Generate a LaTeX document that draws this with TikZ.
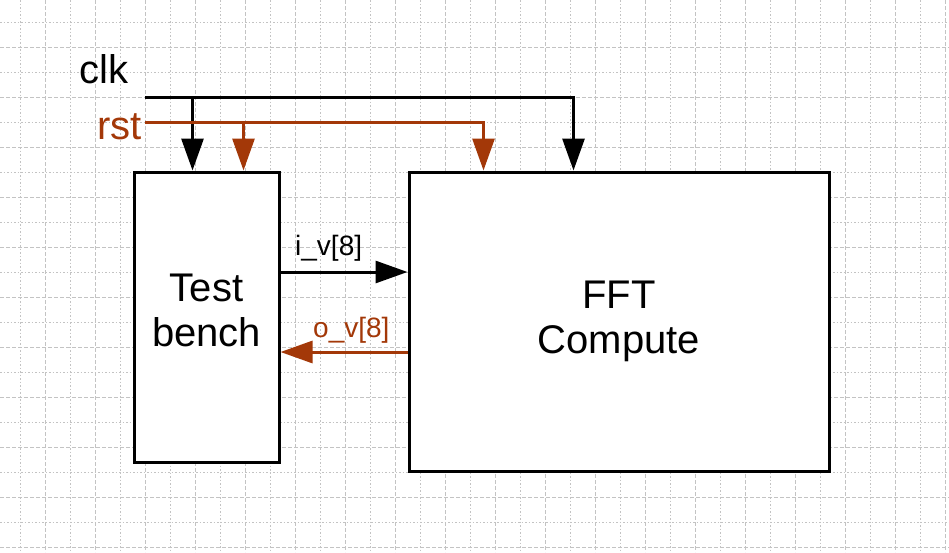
\documentclass[tikz,border=0pt]{standalone}
\usepackage{fontspec}
\setmainfont{Liberation Sans}
\usepackage{tikz}
\usetikzlibrary{arrows.meta, positioning}
\definecolor{rstbrown}{RGB}{163,56,8}
\definecolor{gridgray}{RGB}{195,195,195}
\tikzstyle{gridminor} = [draw = gridgray, line width = 1pt, dash pattern = on 1.5pt off 2pt]
\tikzstyle{gridmajor} = [draw = gridgray, line width = 1pt, dash pattern = on 4pt off 2pt]
\tikzstyle{block} = [rectangle, draw, line width = 3pt, fill = white, inner sep = 0pt, align = center, font = \fontsize{40}{45}\selectfont]
\tikzstyle{sig} = [inner sep = 0pt, font = \fontsize{40}{45}\selectfont]
\tikzstyle{bus} = [inner sep = 0pt, font = \fontsize{28}{32}\selectfont]
\tikzstyle{line2} = [draw, line width = 3pt, -{Triangle[length = 32pt, width = 22pt]}]
\tikzstyle{line3} = [line2, draw = rstbrown, -{Triangle[length = 32pt, width = 22pt, color = rstbrown]}]
\begin{document}
\begin{tikzpicture}[x = 1pt, y = -1pt]
			\useasboundingbox [fill = white] (0, 0) rectangle (949, 552);
			% Grid
			\foreach \k in {0, ..., 37} {
				\pgfmathsetmacro{\gx}{20 + 25*\k}
				\ifodd\k \path [gridmajor] (\gx, 0) -- (\gx, 552);
				\else \path [gridminor] (\gx, 0) -- (\gx, 552); \fi
			}
			\foreach \k in {0, ..., 21} {
				\pgfmathsetmacro{\gy}{22 + 25*\k}
				\ifodd\k \path [gridmajor] (0, \gy) -- (949, \gy);
				\else \path [gridminor] (0, \gy) -- (949, \gy); \fi
			}
			% Place nodes
			\node [block, minimum width = 145pt, minimum height = 290pt] (bench) at (206.5, 317) {Test\\bench\strut};
			\node [block, minimum width = 420pt, minimum height = 299pt] (fft) at (619, 321.5) {FFT\\Compute};
			\coordinate (clk) at (145, 97);
			\coordinate (rst) at (145, 122);
			\coordinate (iv) at (344, 272);
			\coordinate (ov) at (344, 352);
			\node [sig, anchor = base west] (clklabel) at (79, 83) {clk};
			\node [sig, anchor = base west, text = rstbrown] (rstlabel) at (97, 139) {rst};
			\node [bus, anchor = base west] (ivlabel) at (295, 255) {i\_v[8]};
			\node [bus, anchor = base west, text = rstbrown] (ovlabel) at (313, 337) {o\_v[8]};
			% Draw edges
			\path [line2] (clk) -| ([xshift = 166pt]fft.north west);
			\path [line2] ([xshift = 60pt]bench.north west |- clk) -- ([xshift = 60pt]bench.north west);
			\path [line3] (rst) -| ([xshift = 76pt]fft.north west);
			\path [line3] ([xshift = 111pt]bench.north west |- rst) -- ([xshift = 111pt]bench.north west);
			\path [line2] (bench.east |- iv) -- (fft.west |- iv);
			\path [line3] (fft.west |- ov) -- (bench.east |- ov);
		\end{tikzpicture}
\end{document}
